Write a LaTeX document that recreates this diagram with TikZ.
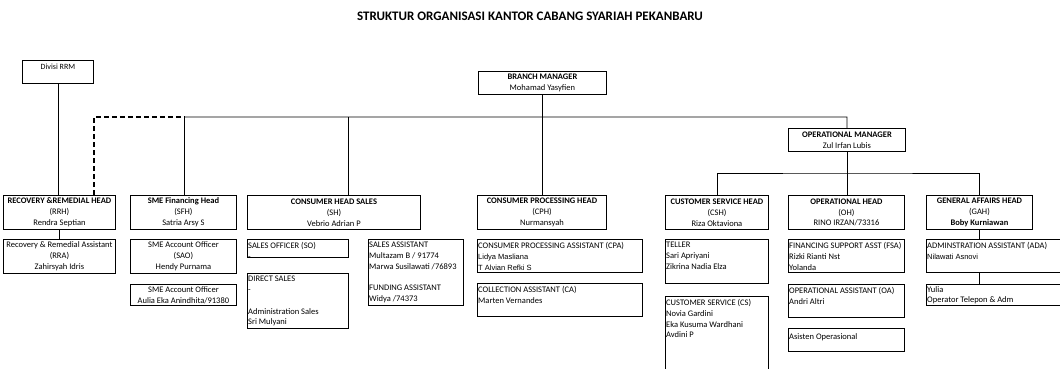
\documentclass[tikz,border=0pt]{standalone}
\usepackage{fontspec}
\setmainfont{Carlito}
\newfontfamily\arialfont{Liberation Sans}
\tikzset{
  orgbox/.style={draw,line width=.9pt,anchor=north west,inner sep=0pt},
  headtext/.style={align=center,inner sep=0pt,font=\fontsize{8.5}{10.8}\selectfont},
  listtext/.style={anchor=north west,align=left,inner sep=0pt,font=\fontsize{8.5}{10.8}\selectfont},
  titletext/.style={inner sep=0pt,font=\fontsize{13}{15}\selectfont\bfseries},
  link/.style={line width=.9pt},
  dashlink/.style={line width=1.3pt,dash pattern=on 5pt off 3pt},
}
\newcommand\mkbox[5]{\node[orgbox,minimum width=#4pt,minimum height=#5pt] (#1) at (#2,#3) {};}
\begin{document}
\begin{tikzpicture}[x=1pt,y=-1pt]
      \useasboundingbox (0,0) rectangle (1060,369);
      \clip (0,0) rectangle (1060,369);
      \node[titletext] (title) at (530,16) {STRUKTUR ORGANISASI KANTOR CABANG SYARIAH PEKANBARU};
      \mkbox{div}{22}{60}{71}{23}
      \mkbox{bm}{478}{71}{128}{23}
      \mkbox{om}{788}{128}{117}{23}
      \mkbox{rrh}{3}{195}{112}{34}
      \mkbox{sfh}{130}{195}{106}{34}
      \mkbox{sh}{247}{195}{173}{34}
      \mkbox{cph}{477}{195}{129}{34}
      \mkbox{csh}{665}{195}{103}{34}
      \mkbox{oh}{788}{195}{116}{34}
      \mkbox{gah}{926}{195}{106}{34}
      \mkbox{rra}{3}{239}{112}{34}
      \mkbox{sao}{130}{239}{106}{34}
      \mkbox{saob}{130}{284}{106}{21}
      \mkbox{so}{247}{239}{101}{18}
      \mkbox{sa}{368}{239}{95}{66}
      \mkbox{ds}{247}{273}{101}{55}
      \mkbox{cpa}{477}{239}{165}{33}
      \mkbox{ca}{477}{283}{165}{33}
      \mkbox{teller}{665}{239}{103}{44}
      \mkbox{cs}{665}{296}{103}{80}
      \mkbox{fsa}{788}{239}{116}{33}
      \mkbox{oa}{788}{284}{116}{33}
      \mkbox{asop}{788}{328}{116}{23}
      \mkbox{ada}{926}{239}{140}{33}
      \mkbox{yulia}{926}{284}{140}{21}
      \node[headtext,font=\fontsize{8}{9.6}\selectfont] (div-t) at ([yshift=-7pt]div.north) {Divisi RRM};
      \node[headtext] (bm-t) at (bm) {\textbf{BRANCH MANAGER}\\Mohamad Yasyfien};
      \node[headtext] (om-t) at (om) {\textbf{OPERATIONAL MANAGER}\\Zul Irfan Lubis};
      \node[headtext] (rrh-t) at (rrh) {\textbf{RECOVERY \&REMEDIAL HEAD}\\(RRH)\\Rendra Septian};
      \node[headtext] (sfh-t) at (sfh) {\textbf{SME Financing Head}\\(SFH)\\Satria Arsy S};
      \node[headtext] (sh-t) at (sh) {\textbf{CONSUMER HEAD SALES}\\(SH)\\Vebrio Adrian P};
      \node[headtext] (cph-t) at (cph) {\textbf{CONSUMER PROCESSING HEAD}\\(CPH)\\Nurmansyah};
      \node[headtext] (csh-t) at (csh) {\textbf{CUSTOMER SERVICE HEAD}\\(CSH)\\Riza Oktaviona};
      \node[headtext] (oh-t) at (oh) {\textbf{OPERATIONAL HEAD}\\(OH)\\RINO IRZAN/73316};
      \node[headtext] (gah-t) at (gah) {\textbf{GENERAL AFFAIRS HEAD}\\(GAH)\\\textbf{Boby Kurniawan}};
      \node[headtext] (rra-t) at (rra) {Recovery \& Remedial Assistant\\(RRA)\\Zahirsyah Idris};
      \node[headtext] (sao-t) at (sao) {SME Account Officer\\(SAO)\\Hendy Purnama};
      \node[headtext] (saob-t) at (saob) {SME Account Officer\\Aulia Eka Anindhita/91380};
      \node[listtext] (so-t) at ([shift={(1pt,-3pt)}]so.north west) {SALES OFFICER (SO)\\-};
      \node[listtext] (sa-t) at ([shift={(1pt,-3pt)}]sa.north west) {SALES ASSISTANT\\Multazam B / 91774\\Marwa Susilawati /76893\\~\\FUNDING ASSISTANT\\Widya /74373};
      \node[listtext] (ds-t) at ([shift={(1pt,-3pt)}]ds.north west) {DIRECT SALES\\-\\~\\Administration Sales\\Sri Mulyani};
      \node[listtext] (cpa-t) at ([shift={(1pt,-3pt)}]cpa.north west) {CONSUMER PROCESSING ASSISTANT (CPA)\\{\arialfont\fontsize{7.5}{10.8}\selectfont Lidya Masliana}\\{\arialfont\fontsize{7.5}{10.8}\selectfont T Alvian Refki S}};
      \node[listtext] (ca-t) at ([shift={(1pt,-3pt)}]ca.north west) {COLLECTION ASSISTANT (CA)\\Marten Vernandes};
      \node[listtext] (teller-t) at ([shift={(1pt,-3pt)}]teller.north west) {TELLER\\Sari Apriyani\\Zikrina Nadia Elza};
      \node[listtext] (cs-t) at ([shift={(1pt,-3pt)}]cs.north west) {CUSTOMER SERVICE (CS)\\Novia Gardini\\Eka Kusuma Wardhani\\Avdini P};
      \node[listtext] (fsa-t) at ([shift={(1pt,-3pt)}]fsa.north west) {FINANCING SUPPORT ASST (FSA)\\Rizki Rianti Nst\\Yolanda};
      \node[listtext] (oa-t) at ([shift={(1pt,-3pt)}]oa.north west) {OPERATIONAL ASSISTANT (OA)\\Andri Altri};
      \node[listtext] (asop-t) at ([shift={(1pt,-5pt)}]asop.north west) {Asisten Operasional};
      \node[listtext] (ada-t) at ([shift={(1pt,-3pt)}]ada.north west) {ADMINSTRATION ASSISTANT (ADA)\\{\arialfont\fontsize{7.5}{10.8}\selectfont Nilawati Asnovi}};
      \node[listtext] (yulia-t) at ([shift={(1pt,-2pt)}]yulia.north west) {Yulia\\Operator Telepon \& Adm};
      \coordinate (busl) at (184,117);
      \coordinate (busr) at (847,117);
      \coordinate (busb) at (847,173);
      \draw[link] (div.south) -- (div.south |- rrh.north);
      \draw[dashlink] ([xshift=-22pt]rrh.north east) |- (busl);
      \draw[link] (busl) -- (busr) -- (om.north);
      \draw[link] (busl) -- (busl |- sfh.north);
      \draw[link] ([xshift=14pt]sh.north) -- ([xshift=14pt]sh.north |- busl);
      \draw[link] (bm.south) -- (bm.south |- cph.north);
      \draw[link] (om.south) -- (om.south |- oh.north);
      \draw[link] (csh.north) |- (busb) -| (gah.north);
      \draw[link] (rrh.south) -- (rra.north);
      \draw[link] (gah.south) -- (gah.south |- ada.north);
      \draw[link] (gah.south |- ada.south) -- (gah.south |- yulia.north);
\end{tikzpicture}
\end{document}
